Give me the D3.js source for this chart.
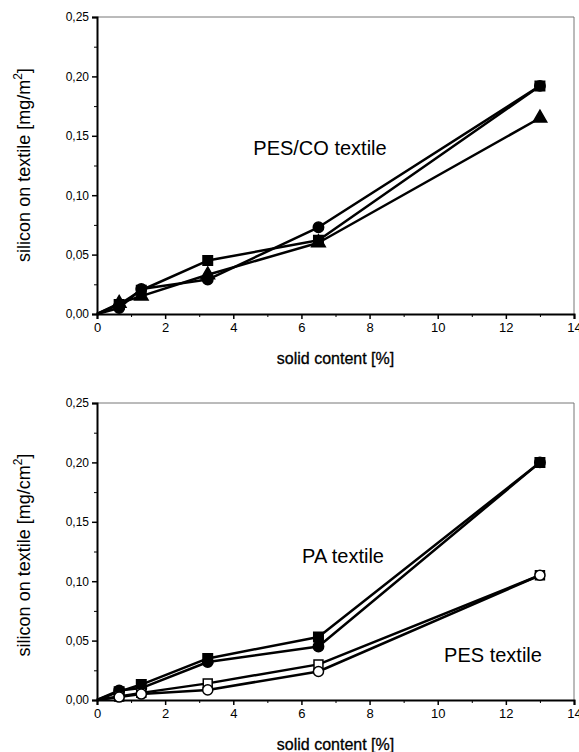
<!DOCTYPE html>
<html>
<head>
<meta charset="utf-8">
<script src="https://cdn.jsdelivr.net/npm/d3@7"></script>
<style>
  body { margin: 0; background: #fff; }
  svg { display: block; font-family: "Liberation Sans", Arial, sans-serif; }
</style>
</head>
<body>
<div class="chart"></div>
<script>
// DATA
// ----------------------------
const solidContent = [0, 0.65, 1.3, 3.25, 6.5, 13]
const xTicks = [0, 2, 4, 6, 8, 10, 12, 14]
const yTicks = [0, 0.05, 0.10, 0.15, 0.20, 0.25]

// PES/CO textile
const pescoSquare = [0, 0.008, 0.020, 0.045, 0.062, 0.192]
const pescoCircle = [0, 0.005, 0.021, 0.029, 0.073, 0.192]
const pescoTriangle = [0, 0.009, 0.015, 0.033, 0.060, 0.165]

// PA textile (filled) and PES textile (open)
const paSquare = [0, 0.007, 0.013, 0.035, 0.053, 0.200]
const paCircle = [0, 0.008, 0.010, 0.032, 0.045, 0.200]
const pesSquare = [0, 0.003, 0.006, 0.014, 0.030, 0.105]
const pesCircle = [0, 0.0025, 0.005, 0.0085, 0.024, 0.105]
// ----------------------------

const fullWidth = 579
const fullHeight = 752

const svg = d3.select('.chart')
  .append('svg')
    .attr('width', fullWidth)
    .attr('height', fullHeight)

const xScale = d3.scaleLinear().domain([0, 14]).range([97, 574])
const fmt = d => d3.format('.2f')(d).replace('.', ',')

function panel (top, yTitle, yTitleY, series, labels) {
  const bottom = top + 297
  const yScale = d3.scaleLinear().domain([0, 0.25]).range([bottom, top])
  const g = svg.append('g')

  // frame (thin top/right)
  g.append('path')
    .attr('d', `M${xScale(0)},${top}H${xScale(14)}V${bottom}`)
    .attr('fill', 'none')
    .attr('stroke', '#777')
    .attr('stroke-width', 1)

  // y axis
  const yAxis = d3.axisLeft(yScale)
    .tickValues(yTicks)
    .tickFormat(fmt)
    .tickSize(5)
    .tickPadding(3)
  const ya = g.append('g')
    .attr('transform', `translate(${xScale(0)},0)`)
    .call(yAxis)
  ya.select('.domain').attr('stroke-width', 2)
  ya.selectAll('.tick line').attr('stroke-width', 1.5)
  ya.selectAll('text').attr('font-size', 12).attr('fill', '#000')
  g.append('g')
    .attr('transform', `translate(${xScale(0)},0)`)
    .call(d3.axisLeft(yScale).tickValues(d3.range(0.025, 0.25, 0.05)).tickSize(3).tickFormat(''))
    .call(s => s.select('.domain').remove())

  // x axis
  const xAxis = d3.axisBottom(xScale)
    .tickValues(xTicks)
    .tickSize(5)
    .tickPadding(4)
  const xa = g.append('g')
    .attr('transform', `translate(0,${bottom})`)
    .call(xAxis)
  xa.select('.domain').attr('stroke-width', 2)
  xa.selectAll('.tick line').attr('stroke-width', 1.5)
  xa.selectAll('text').attr('font-size', 13).attr('fill', '#000')
  g.append('g')
    .attr('transform', `translate(0,${bottom})`)
    .call(d3.axisBottom(xScale).tickValues(d3.range(1, 14, 2)).tickSize(3).tickFormat(''))
    .call(s => s.select('.domain').remove())

  // titles
  g.append('text')
    .attr('x', (xScale(0) + xScale(14)) / 2)
    .attr('y', bottom + 50)
    .attr('text-anchor', 'middle')
    .attr('font-size', 16)
    .attr('stroke', '#000')
    .attr('stroke-width', 0.3)
    .text('solid content [%]')

  const yt = g.append('text')
    .attr('transform', `translate(30,${yTitleY}) rotate(-90)`)
    .attr('text-anchor', 'middle')
    .attr('font-size', 18)
  yt.append('tspan').text(yTitle[0])
  yt.append('tspan').attr('dy', -8).attr('font-size', 12).text('2')
  yt.append('tspan').attr('dy', 8).text(']')

  // lines and markers
  const line = d3.line()
    .x((d, i) => xScale(solidContent[i]))
    .y(d => yScale(d))

  series.forEach(s => {
    g.append('path')
      .datum(s.values)
      .attr('d', line)
      .attr('fill', 'none')
      .attr('stroke', '#000')
      .attr('stroke-width', 2.5)
      .attr('stroke-linejoin', 'round')
  })
  series.forEach(s => {
    const sym = d3.symbol().type(s.shape).size(s.size)
    g.selectAll(null)
      .data(s.values.slice(1))
      .enter()
      .append('path')
      .attr('transform', (d, i) => `translate(${xScale(solidContent[i + 1])},${yScale(d)})`)
      .attr('d', sym)
      .attr('fill', s.open ? '#fff' : '#000')
      .attr('stroke', '#000')
      .attr('stroke-width', 1.5)
  })

  labels.forEach(l => {
    g.append('text')
      .attr('x', l.x)
      .attr('y', l.y)
      .attr('text-anchor', 'middle')
      .attr('font-size', 20)
      .text(l.text)
  })
}

panel(17, ['silicon on textile [mg/m'], 165, [
  { values: pescoSquare, shape: d3.symbolSquare, size: 90, open: false },
  { values: pescoCircle, shape: d3.symbolCircle, size: 85, open: false },
  { values: pescoTriangle, shape: d3.symbolTriangle, size: 80, open: false }
], [
  { x: 320, y: 155, text: 'PES/CO textile' }
])

panel(403, ['silicon on textile [mg/cm'], 555, [
  { values: paSquare, shape: d3.symbolSquare, size: 90, open: false },
  { values: paCircle, shape: d3.symbolCircle, size: 85, open: false },
  { values: pesSquare, shape: d3.symbolSquare, size: 80, open: true },
  { values: pesCircle, shape: d3.symbolCircle, size: 80, open: true }
], [
  { x: 343, y: 563, text: 'PA textile' },
  { x: 493, y: 662, text: 'PES textile' }
])
</script>
</body>
</html>
